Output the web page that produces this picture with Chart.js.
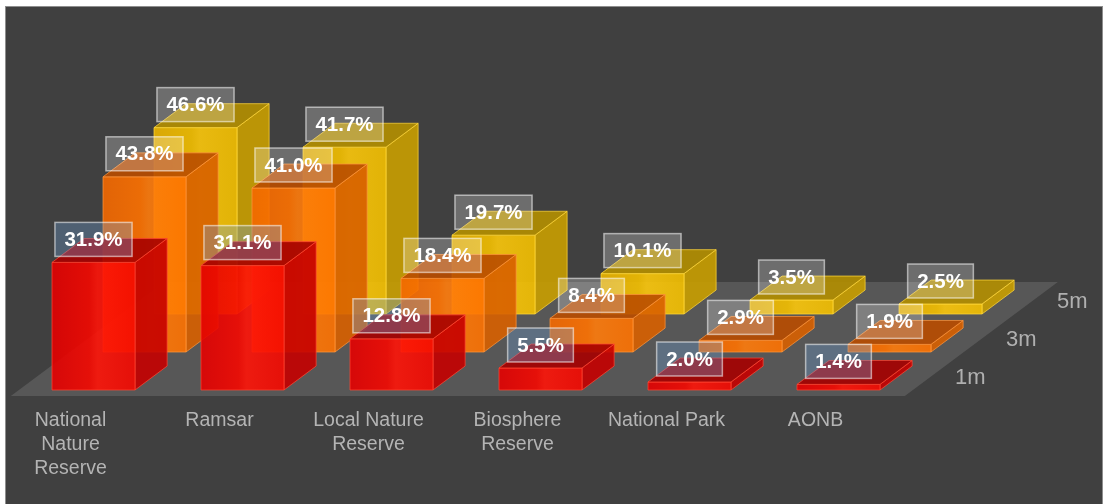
<!DOCTYPE html>
<html>
<head>
<meta charset="utf-8">
<title>Protected areas within reach of sea level rise</title>
<script src="https://cdn.jsdelivr.net/npm/chart.js@4.4.0/dist/chart.umd.min.js"></script>
<style>
  html, body { margin: 0; padding: 0; background: #fff; overflow: hidden; }
  #frame {
    position: absolute; left: 5px; top: 6px;
    width: 1096px; height: 497px;
    border: 1px solid #8e8e8e; border-bottom: none;
    background: #404040;
  }
  canvas { display: block; }
</style>
</head>
<body>
<div id="frame"><canvas id="chart" width="1096" height="497"></canvas></div>
<script>
// categories along the front, series going back in depth
const categories = [
  ['National', 'Nature', 'Reserve'],
  'Ramsar',
  ['Local Nature', 'Reserve'],
  ['Biosphere', 'Reserve'],
  'National Park',
  'AONB'
];
const depthLabels = ['1m', '3m', '5m'];

// % of each designation affected
const rise1m = [31.9, 31.1, 12.8, 5.5, 2.0, 1.4];
const rise3m = [43.8, 41.0, 18.4, 8.4, 2.9, 1.9];
const rise5m = [46.6, 41.7, 19.7, 10.1, 3.5, 2.5];

// face colours per series: front (dark, mid, light), top, side, edge
const palettes = [
  { front: ['#e40000', '#f50800', '#ff1408'], top: '#a60000', side: '#c50000', edge: 'rgba(255,70,50,0.8)' },
  { front: ['#f46800', '#ff7200', '#ff7c0c'], top: '#b94c00', side: '#d86000', edge: 'rgba(255,150,60,0.8)' },
  { front: ['#ebb400', '#f4c000', '#fcc80c'], top: '#b48f00', side: '#c99e00', edge: 'rgba(255,215,60,0.8)' }
];
const labelFills = ['rgba(110,160,215,0.33)', 'rgba(255,255,255,0.24)', 'rgba(255,255,255,0.24)'];

const FONT = "'Liberation Sans', Arial, sans-serif";
const STEP = { x: 51, y: -38 };   // shift for one series further back
const DEPTH = 0.63;               // bar depth as a share of one step
const BAR_W = 83;

const shapePath = (ctx, pts) => {
  ctx.beginPath();
  ctx.moveTo(pts[0][0], pts[0][1]);
  for (let i = 1; i < pts.length; i++) ctx.lineTo(pts[i][0], pts[i][1]);
  ctx.closePath();
};

const drawBox = (ctx, l, r, top, bottom, pal) => {
  const dx = STEP.x * DEPTH, dy = STEP.y * DEPTH;

  // side
  shapePath(ctx, [[r, bottom], [r, top], [r + dx, top + dy], [r + dx, bottom + dy]]);
  ctx.fillStyle = pal.side;
  ctx.fill();
  ctx.strokeStyle = pal.edge;
  ctx.stroke();

  // front
  const g = ctx.createLinearGradient(l, 0, r, 0);
  g.addColorStop(0, pal.front[0]);
  g.addColorStop(0.45, pal.front[1]);
  g.addColorStop(0.55, pal.front[2]);
  g.addColorStop(1, pal.front[1]);
  shapePath(ctx, [[l, bottom], [l, top], [r, top], [r, bottom]]);
  ctx.fillStyle = g;
  ctx.fill();
  ctx.stroke();

  // top
  shapePath(ctx, [[l, top], [r, top], [r + dx, top + dy], [l + dx, top + dy]]);
  ctx.fillStyle = pal.top;
  ctx.fill();
  ctx.stroke();
};

const bars3d = {
  id: 'bars3d',
  afterDatasetsDraw(chart) {
    const { ctx, chartArea, scales: { x, y } } = chart;
    const base = y.getPixelForValue(0);
    const nSeries = chart.data.datasets.length;

    ctx.save();

    // floor
    const z0 = -0.16, z1 = nSeries - 0.16;
    shapePath(ctx, [
      [chartArea.left + STEP.x * z0, base + STEP.y * z0],
      [chartArea.right + STEP.x * z0, base + STEP.y * z0],
      [chartArea.right + STEP.x * z1, base + STEP.y * z1],
      [chartArea.left + STEP.x * z1, base + STEP.y * z1]
    ]);
    ctx.fillStyle = '#575757';
    ctx.fill();

    // depth axis labels
    ctx.font = `22px ${FONT}`;
    ctx.fillStyle = '#b0b0b0';
    ctx.textAlign = 'left';
    ctx.textBaseline = 'middle';
    depthLabels.forEach((lbl, k) => {
      const z = k + DEPTH / 2;
      ctx.fillText(lbl, chartArea.right + STEP.x * z + 26, base + STEP.y * z);
    });

    // bars, back row first
    ctx.lineWidth = 1;
    ctx.globalAlpha = 0.9;
    for (let k = nSeries - 1; k >= 0; k--) {
      const ds = chart.data.datasets[k];
      ds.data.forEach((v, i) => {
        const l = x.getPixelForValue(i) - BAR_W / 2 + STEP.x * k;
        const top = y.getPixelForValue(v) + STEP.y * k;
        drawBox(ctx, l, l + BAR_W, top, base + STEP.y * k, palettes[k]);
      });
    }
    ctx.globalAlpha = 1;

    // value labels
    ctx.font = `bold 20.5px ${FONT}`;
    ctx.textAlign = 'center';
    for (let k = nSeries - 1; k >= 0; k--) {
      chart.data.datasets[k].data.forEach((v, i) => {
        const text = v.toFixed(1) + '%';
        const cx = x.getPixelForValue(i) + STEP.x * k;
        const cy = y.getPixelForValue(v) + STEP.y * k - 23;
        const w = ctx.measureText(text).width + 19, h = 34;
        ctx.fillStyle = labelFills[k];
        ctx.fillRect(cx - w / 2, cy - h / 2, w, h);
        ctx.strokeStyle = 'rgba(255,255,255,0.55)';
        ctx.lineWidth = 1.5;
        ctx.strokeRect(cx - w / 2, cy - h / 2, w, h);
        ctx.fillStyle = '#ffffff';
        ctx.fillText(text, cx, cy + 1);
      });
    }

    ctx.restore();
  }
};

new Chart(document.getElementById('chart'), {
  type: 'bar',
  data: {
    labels: categories,
    datasets: [
      { label: '1m', data: rise1m },
      { label: '3m', data: rise3m },
      { label: '5m', data: rise5m }
    ].map(d => ({ ...d, backgroundColor: 'transparent', borderWidth: 0 }))
  },
  options: {
    responsive: false,
    animation: false,
    events: [],
    layout: { padding: { left: 13, right: 189, top: 143, bottom: 4 } },
    scales: {
      x: {
        offset: true,
        border: { display: false },
        grid: { display: false, drawTicks: false },
        ticks: {
          color: '#b4b4b4',
          font: { family: FONT, size: 19.5, lineHeight: '24px' },
          padding: 19,
          labelOffset: -23,
          maxRotation: 0,
          autoSkip: false
        }
      },
      y: { display: false, min: 0, max: 60 }
    },
    plugins: {
      legend: { display: false },
      tooltip: { enabled: false }
    }
  },
  plugins: [bars3d]
});
</script>
</body>
</html>
